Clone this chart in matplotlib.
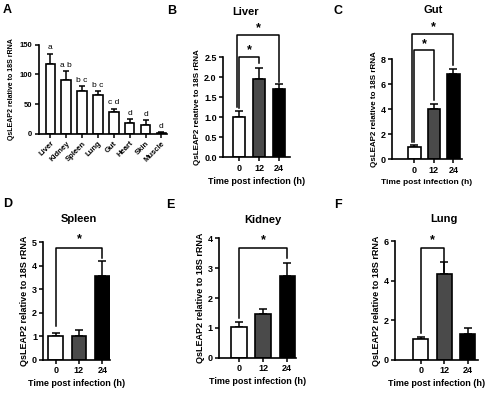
import matplotlib
matplotlib.use("Agg")
import matplotlib.pyplot as plt

plt.rcParams['font.family'] = ['Liberation Sans', 'DejaVu Sans']
plt.rcParams['font.weight'] = 'bold'
plt.rcParams['axes.labelweight'] = 'bold'
plt.rcParams['axes.titleweight'] = 'bold'

# Panel A: tissue distribution
tissues = ["Liver", "Kidney", "Spleen", "Lung", "Gut", "Heart", "Skin", "Muscle"]
tissue_vals = [118.4, 91.4, 71.6, 65.4, 36.7, 18.6, 15.2, 1.1]
tissue_err = [16.6, 14.1, 9.0, 6.8, 5.6, 5.7, 7.4, 1.7]
tissue_letters = ["a", "a b", "b c", "b c", "c d", "d", "d", "d"]

# Panels B-F: time course
times = ["0", "12", "24"]
liver_vals = [1.0, 1.95, 1.72]
liver_err = [0.16, 0.28, 0.11]
gut_vals = [1.01, 4.05, 6.8]
gut_err = [0.11, 0.35, 0.45]
spleen_vals = [1.0, 1.03, 3.58]
spleen_err = [0.15, 0.25, 0.62]
kidney_vals = [1.02, 1.46, 2.75]
kidney_err = [0.18, 0.16, 0.43]
lung_vals = [1.03, 4.32, 1.3]
lung_err = [0.13, 0.6, 0.29]

bar_colors = ["white", "#4a4a4a", "black"]
ylab = "QsLEAP2 relative to 18S rRNA"

fig = plt.figure(figsize=(5.0, 3.93), dpi=100)


def style(ax):
    for s in ["top", "right"]:
        ax.spines[s].set_visible(False)
    for s in ["left", "bottom"]:
        ax.spines[s].set_linewidth(1.2)
    ax.tick_params(width=1.1, length=3, labelsize=6.5, pad=1.5)


def bracket(ax, x1, x2, y, yl, yr, ystar):
    ax.plot([x1, x1, x2, x2], [yl, y, y, yr], color="black", lw=1.1,
            clip_on=False)
    ax.text((x1 + x2) / 2, ystar, "*", ha="center", va="center",
            fontsize=9, clip_on=False)


def time_panel(rect, vals, err, title, ylim, yticks, xlim, brackets,
               fmt=None, title_x=1.0, title_y=1.2, ylab_size=6.5,
               xlab_size=6.5):
    ax = fig.add_axes(rect)
    xs = range(len(vals))
    ax.bar(xs, vals, width=0.63, color=bar_colors, edgecolor="black",
           linewidth=1.2, zorder=2)
    ax.errorbar(xs, vals, yerr=[[0] * len(err), err], fmt="none",
                ecolor="black", elinewidth=1.1, capsize=3, capthick=1.1,
                zorder=1)
    ax.set_xlim(*xlim)
    ax.set_ylim(*ylim)
    ax.set_yticks(yticks)
    if fmt:
        ax.set_yticklabels([fmt % t for t in yticks])
    ax.set_xticks(list(xs))
    ax.set_xticklabels(times)
    style(ax)
    ax.set_ylabel(ylab, fontsize=ylab_size, labelpad=2)
    ax.set_xlabel("Time post infection (h)", fontsize=xlab_size, labelpad=3)
    ax.text(title_x, ylim[1] * title_y, title, ha="center", va="center",
            fontsize=8, fontweight="bold")
    for b in brackets:
        bracket(ax, *b)
    return ax


# Panel A
axA = fig.add_axes([0.077, 0.66, 0.256, 0.226])
xA = range(len(tissues))
axA.bar(xA, tissue_vals, width=0.6, color="white", edgecolor="black",
        linewidth=1.2, zorder=2)
axA.errorbar(xA, tissue_vals, yerr=[[0] * len(tissue_err), tissue_err],
             fmt="none", ecolor="black", elinewidth=1.1, capsize=2.5,
             capthick=1.1, zorder=1)
for i, lab in enumerate(tissue_letters):
    axA.text(i, tissue_vals[i] + tissue_err[i] + 4, lab, ha="center",
             va="bottom", fontsize=6, fontweight="normal")
axA.set_xlim(-0.75, 7.32)
axA.set_ylim(0, 150)
axA.set_yticks([0, 50, 100, 150])
axA.set_xticks(list(xA))
axA.set_xticklabels(tissues, rotation=45, ha="right", rotation_mode="anchor")
style(axA)
axA.tick_params(axis="x", labelsize=5.5)
axA.tick_params(axis="y", labelsize=5.5)
axA.set_ylabel(ylab, fontsize=5, labelpad=3)

# Panels B-F
time_panel([0.446, 0.5997, 0.134, 0.2545], liver_vals, liver_err, "Liver",
           (0, 2.5), [0.0, 0.5, 1.0, 1.5, 2.0, 2.5], (-0.8, 2.55),
           [(0, 1, 2.5, 1.225, 2.35, 2.67), (-0.1, 2, 3.06, 1.27, 1.89, 3.22)],
           fmt="%.1f", title_x=0.35, title_y=1.45, ylab_size=5.8)
time_panel([0.7834, 0.5947, 0.1406, 0.2545], gut_vals, gut_err, "Gut",
           (0, 8), [0, 2, 4, 6, 8], (-1.16, 2.44),
           [(0, 1, 8.75, 1.4, 4.75, 9.2), (-0.1, 2, 10.0, 1.35, 7.55, 10.55)],
           title_x=0.95, title_y=1.49, ylab_size=5.8, xlab_size=6)
time_panel([0.0866, 0.084, 0.1334, 0.2995], spleen_vals, spleen_err, "Spleen",
           (0, 5), [0, 1, 2, 3, 4, 5], (-0.53, 2.33),
           [(0, 2, 4.77, 1.45, 4.35, 5.14)], title_x=1.0, title_y=1.2)
time_panel([0.438, 0.0898, 0.153, 0.3038], kidney_vals, kidney_err, "Kidney",
           (0, 4), [0, 1, 2, 3, 4], (-0.83, 2.35),
           [(0, 2, 3.69, 1.32, 3.33, 3.94)], title_x=1.0, title_y=1.153)
time_panel([0.79, 0.0847, 0.166, 0.302], lung_vals, lung_err, "Lung",
           (0, 6), [0, 2, 4, 6], (-1.1, 2.43),
           [(0, 1, 5.66, 1.33, 4.45, 6.05)], title_x=1.0, title_y=1.185)

# Panel letters
for lab, x, y in [("A", 0.006, 0.99), ("B", 0.334, 0.987), ("C", 0.668, 0.987),
                  ("D", 0.006, 0.497), ("E", 0.333, 0.494), ("F", 0.668, 0.494)]:
    fig.text(x, y, lab, fontsize=9, fontweight="bold", va="top")

fig.savefig("out.png", dpi=100)
